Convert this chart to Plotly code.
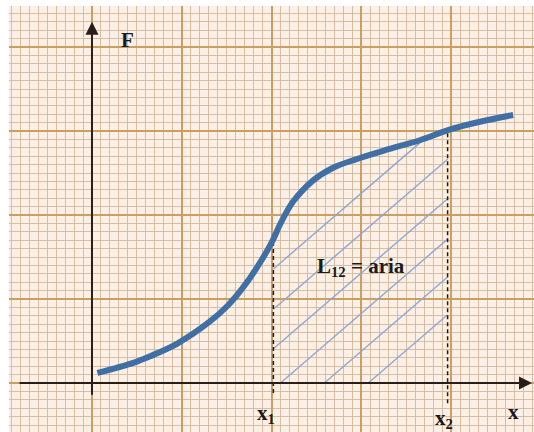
import numpy as np
import plotly.graph_objects as go

# Curve F(x) (units: major grid squares)
curve_x = [0.06, 0.46, 0.65, 0.95, 1.31, 1.51, 1.67, 1.84, 2.00, 2.10, 2.24, 2.46, 2.68, 2.93, 3.26, 3.65, 3.99, 4.32, 4.69]
curve_y = [0.12, 0.24, 0.32, 0.47, 0.73, 0.92, 1.12, 1.38, 1.67, 1.90, 2.16, 2.41, 2.56, 2.66, 2.77, 2.89, 3.02, 3.11, 3.19]

# Interval limits
x1 = 2.02
x2 = 3.96

# Hatching: slope and intercepts of the diagonal lines
hatch_slope = 0.92
hatch_intercepts = [-0.50, -0.98, -1.45, -1.93, -2.38, -2.83]

labels = {"F": "F", "area": "L<sub>12</sub> = aria", "x1": "x<sub>1</sub>", "x2": "x<sub>2</sub>", "x": "x"}

X_RANGE = [-0.924, 4.922]
Y_RANGE = [-0.583, 4.488]

fig = go.Figure()

# hatch lines clipped to region under curve between x1 and x2
xs = np.linspace(x1, x2, 2000)
cy = np.interp(xs, curve_x, curve_y)
for b in hatch_intercepts:
    ly = hatch_slope * xs + b
    mask = (ly >= 0) & (ly <= cy)
    if mask.any():
        seg_x = xs[mask]
        fig.add_trace(go.Scatter(
            x=[seg_x[0], seg_x[-1]],
            y=[hatch_slope * seg_x[0] + b, hatch_slope * seg_x[-1] + b],
            mode="lines", line=dict(color="#90a6d2", width=1.4),
            hoverinfo="skip", showlegend=False))

# dashed verticals at x1, x2
for xv, ybot in [(x1, -0.12), (x2, -0.24)]:
    fig.add_trace(go.Scatter(
        x=[xv, xv], y=[ybot, float(np.interp(xv, curve_x, curve_y))],
        mode="lines", line=dict(color="#1e1a16", width=1.5, dash="4px,3px"),
        hoverinfo="skip", showlegend=False))

# the curve
fig.add_trace(go.Scatter(
    x=curve_x, y=curve_y, mode="lines",
    line=dict(color="#3f6fa4", width=6, shape="spline", smoothing=1.0),
    hoverinfo="skip", showlegend=False))

axis_col = "#2a1f18"
# y axis with arrow
fig.add_annotation(x=0, y=4.30, ax=0, ay=-0.26, xref="x", yref="y", axref="x", ayref="y",
                   showarrow=True, arrowhead=2, arrowsize=1.3, arrowwidth=2, arrowcolor=axis_col, text=" ")
# x axis with arrow
fig.add_annotation(x=4.90, y=0, ax=-0.84, ay=0, xref="x", yref="y", axref="x", ayref="y",
                   showarrow=True, arrowhead=2, arrowsize=1.3, arrowwidth=2, arrowcolor=axis_col, text=" ")

font = dict(family="Liberation Serif, Times New Roman, serif", size=21, color="#1a1a1a")
fig.add_annotation(x=0.39, y=4.08, text="<b>%s</b>" % labels["F"], showarrow=False, font=font)
fig.add_annotation(x=3.00, y=1.38, text="<b>%s</b>" % labels["area"], showarrow=False, font=font)
fig.add_annotation(x=1.94, y=-0.37, text="<b>%s</b>" % labels["x1"], showarrow=False, font=font)
fig.add_annotation(x=3.92, y=-0.43, text="<b>%s</b>" % labels["x2"], showarrow=False, font=font)
fig.add_annotation(x=4.69, y=-0.35, text="<b>%s</b>" % labels["x"], showarrow=False, font=font)

major_col = "#cb9e62"
minor_col = "#d6bea2"
common = dict(showticklabels=False, ticks="", zeroline=False, showline=False,
              showgrid=True, gridcolor=major_col, gridwidth=1.6, dtick=1, tick0=0,
              minor=dict(dtick=0.1, tick0=0, showgrid=True, gridcolor=minor_col, gridwidth=0.8),
              fixedrange=True)
fig.update_xaxes(range=X_RANGE, **common)
fig.update_yaxes(range=Y_RANGE, **common)

fig.update_layout(width=534, height=432, margin=dict(l=9, r=0, t=6, b=0),
                  paper_bgcolor="white", plot_bgcolor="#fcf0e6", showlegend=False)

fig.write_html("out.html", config={"displayModeBar": False},
               post_script="document.body.style.margin='0';document.body.style.overflow='hidden';")
